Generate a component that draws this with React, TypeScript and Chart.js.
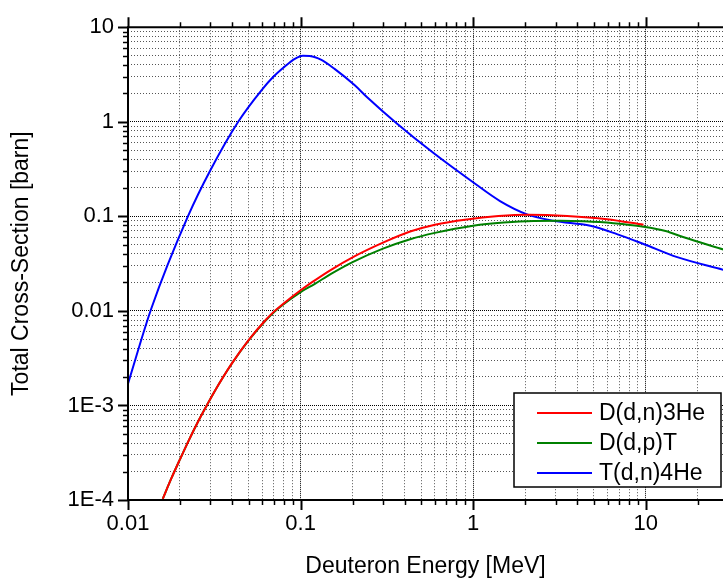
import React, { useEffect, useRef } from "react";
import { Chart, registerables } from "chart.js";

Chart.register(...registerables);

// ---- axis ranges and ticks ----
const X_MIN = 0.01;
const X_MAX = 28;
const Y_MIN = 1e-4;
const Y_MAX = 10;
const xMajorTicks = [0.01, 0.1, 1, 10];
const xTickLabels = ["0.01", "0.1", "1", "10"];
const yMajorTicks = [1e-4, 1e-3, 0.01, 0.1, 1, 10];
const yTickLabels = ["1E-4", "1E-3", "0.01", "0.1", "1", "10"];
const minorSteps = [2, 3, 4, 5, 6, 7, 8, 9];

// ---- series ----
const seriesLabels = ["D(d,n)3He", "D(d,p)T", "T(d,n)4He"];
const seriesColors = ["#ff0000", "#008000", "#0000ff"];

const ddnEnergy = [0.0159, 0.0178, 0.02, 0.0224, 0.0251, 0.0286, 0.0316, 0.0398, 0.0501, 0.0631, 0.0708, 0.0794, 0.1, 0.116, 0.15, 0.2, 0.3, 0.431, 0.6, 0.918, 1.4, 2.05, 3.5, 5.96, 9.7];
const ddnSigma = [1.03e-4, 1.68e-4, 2.69e-4, 4.2e-4, 6.41e-4, 1e-3, 1.39e-3, 2.75e-3, 4.94e-3, 8.1e-3, 0.01, 0.0119, 0.0165, 0.02, 0.0272, 0.0368, 0.0526, 0.069, 0.0815, 0.0927, 0.1005, 0.1038, 0.101, 0.0933, 0.0815];

const ddpEnergy = [0.0159, 0.0178, 0.02, 0.0224, 0.0251, 0.0286, 0.0316, 0.0398, 0.0501, 0.0631, 0.0708, 0.0794, 0.1, 0.121, 0.15, 0.2, 0.3, 0.431, 0.6, 1.0, 1.5, 2.24, 3.2, 4.37, 6.5, 9.7, 13, 16.6, 28.1];
const ddpSigma = [1.03e-4, 1.68e-4, 2.69e-4, 4.2e-4, 6.41e-4, 1e-3, 1.39e-3, 2.74e-3, 4.9e-3, 8.0e-3, 9.85e-3, 0.0117, 0.0158, 0.0193, 0.0246, 0.0328, 0.0455, 0.0573, 0.0668, 0.0794, 0.0858, 0.0893, 0.0897, 0.0885, 0.0845, 0.0776, 0.07, 0.06, 0.0446];

const dtEnergy = [0.01, 0.01365, 0.0223, 0.0298, 0.0435, 0.0593, 0.0693, 0.081, 0.0925, 0.103, 0.113, 0.132, 0.158, 0.206, 0.242, 0.361, 0.589, 0.98, 1.43, 2.05, 2.92, 4.77, 6.8, 9.7, 15.2, 28.1];
const dtSigma = [1.7e-3, 0.0106, 0.101, 0.3, 1.0, 2.15, 2.97, 3.84, 4.62, 5.0, 4.97, 4.51, 3.6, 2.43, 1.83, 0.96, 0.467, 0.235, 0.145, 0.105, 0.0897, 0.0794, 0.0649, 0.051, 0.037, 0.0272];

const FONT = "'Liberation Sans', Arial, Helvetica, sans-serif";

function isMajor(v: number | undefined): boolean {
  if (v === undefined || v === null) return false;
  const l = Math.log10(v);
  return Math.abs(l - Math.round(l)) < 1e-6;
}

function buildTicks(majors: number[], min: number, max: number) {
  const vals: number[] = [];
  for (const d of majors) {
    if (d >= min * 0.999999 && d <= max * 1.000001) vals.push(d);
    for (const m of minorSteps) {
      const v = Number((d * m).toPrecision(6));
      if (v >= min && v <= max) vals.push(v);
    }
  }
  vals.sort((a, b) => a - b);
  return vals.map((v) => ({ value: v }));
}

function labelFor(value: number, majors: number[], labels: string[]): string {
  for (let i = 0; i < majors.length; i++) {
    if (Math.abs(Math.log10(value) - Math.log10(majors[i])) < 1e-6) return labels[i];
  }
  return "";
}

function toPoints(xs: number[], ys: number[]) {
  return xs.map((x, i) => ({ x, y: ys[i] }));
}

const framePlugin = {
  id: "frame",
  afterDatasetsDraw(chart: any) {
    const { ctx, chartArea } = chart;
    const { left, right, top, bottom } = chartArea;
    const xs = chart.scales.x;
    const ys = chart.scales.y;
    ctx.save();
    ctx.strokeStyle = "#000";
    ctx.setLineDash([]);
    // tick marks
    for (const t of xs.ticks) {
      const px = Math.round(xs.getPixelForValue(t.value)) + 0.5;
      const major = isMajor(t.value);
      const len = major ? 10 : 5;
      ctx.lineWidth = major ? 2 : 1.5;
      ctx.beginPath();
      ctx.moveTo(px, bottom);
      ctx.lineTo(px, bottom + len);
      ctx.moveTo(px, top);
      ctx.lineTo(px, top - len);
      ctx.stroke();
    }
    for (const t of ys.ticks) {
      const py = Math.round(ys.getPixelForValue(t.value)) + 0.5;
      const major = isMajor(t.value);
      const len = major ? 10 : 5;
      ctx.lineWidth = major ? 2 : 1.5;
      ctx.beginPath();
      ctx.moveTo(left, py);
      ctx.lineTo(left - len, py);
      ctx.stroke();
    }
    // frame
    ctx.lineWidth = 2;
    ctx.beginPath();
    ctx.moveTo(right + 2, top);
    ctx.lineTo(left, top);
    ctx.lineTo(left, bottom);
    ctx.lineTo(right + 2, bottom);
    ctx.stroke();

    // legend box
    const boxW = 207;
    const boxH = 94;
    const bx = right - 2 - boxW;
    const by = bottom - 13 - boxH;
    ctx.fillStyle = "#fff";
    ctx.fillRect(bx, by, boxW, boxH);
    ctx.lineWidth = 1.5;
    ctx.strokeRect(bx, by, boxW, boxH);
    ctx.font = `23px ${FONT}`;
    ctx.textBaseline = "middle";
    ctx.textAlign = "left";
    chart.data.datasets.forEach((ds: any, i: number) => {
      const cy = by + 20 + i * 30;
      ctx.strokeStyle = ds.borderColor;
      ctx.lineWidth = 2;
      ctx.beginPath();
      ctx.moveTo(bx + 23, cy);
      ctx.lineTo(bx + 78, cy);
      ctx.stroke();
      ctx.fillStyle = "#000";
      ctx.fillText(ds.label, bx + 85, cy + 1);
    });
    ctx.restore();
  },
};

export default function App() {
  const ref = useRef<HTMLCanvasElement | null>(null);

  useEffect(() => {
    if (!ref.current) return;
    const chart = new Chart(ref.current, {
      type: "line",
      data: {
        datasets: [
          { label: seriesLabels[0], data: toPoints(ddnEnergy, ddnSigma), borderColor: seriesColors[0] },
          { label: seriesLabels[1], data: toPoints(ddpEnergy, ddpSigma), borderColor: seriesColors[1] },
          { label: seriesLabels[2], data: toPoints(dtEnergy, dtSigma), borderColor: seriesColors[2] },
        ].map((d) => ({
          ...d,
          borderWidth: 2,
          pointRadius: 0,
          fill: false,
          cubicInterpolationMode: "monotone" as const,
        })),
      },
      options: {
        responsive: false,
        animation: false,
        devicePixelRatio: 1,
        layout: { padding: { top: 23, left: 0, right: 0, bottom: 0 } },
        plugins: { legend: { display: false }, tooltip: { enabled: false } },
        color: "#000",
        font: { family: FONT },
        scales: {
          x: {
            type: "logarithmic",
            position: "bottom",
            min: X_MIN,
            max: X_MAX,
            afterBuildTicks: (scale: any) => {
              scale.ticks = buildTicks(xMajorTicks, X_MIN, X_MAX);
            },
            afterFit: (scale: any) => {
              scale.height = 80;
            },
            ticks: {
              autoSkip: false,
              maxRotation: 0,
              minRotation: 0,
              padding: 11,
              color: "#000",
              font: { family: FONT, size: 22 },
              callback: (value: any) => labelFor(Number(value), xMajorTicks, xTickLabels),
            },
            grid: {
              drawTicks: false,
              lineWidth: 1,
              color: (c: any) => (isMajor(c.tick?.value) ? "#000" : "#555"),
            },
            border: {
              display: false,
              dash: (c: any) => (isMajor(c.tick?.value) ? [1, 1] : [1, 2]),
            },
            title: {
              display: true,
              text: "Deuteron Energy [MeV]",
              color: "#000",
              font: { family: FONT, size: 23 },
              padding: { top: 0, bottom: 0 },
            },
          },
          y: {
            type: "logarithmic",
            position: "left",
            min: Y_MIN,
            max: Y_MAX,
            afterBuildTicks: (scale: any) => {
              scale.ticks = buildTicks(yMajorTicks, Y_MIN, Y_MAX);
            },
            afterFit: (scale: any) => {
              scale.width = 128;
            },
            ticks: {
              autoSkip: false,
              padding: 14,
              color: "#000",
              font: { family: FONT, size: 22 },
              callback: (value: any) => labelFor(Number(value), yMajorTicks, yTickLabels),
            },
            grid: {
              drawTicks: false,
              lineWidth: 1,
              color: (c: any) => (isMajor(c.tick?.value) ? "#000" : "#555"),
            },
            border: {
              display: false,
              dash: (c: any) => (isMajor(c.tick?.value) ? [1, 1] : [1, 2]),
            },
            title: {
              display: true,
              text: "Total Cross-Section [barn]",
              color: "#000",
              font: { family: FONT, size: 23 },
              padding: { top: 8, bottom: 0 },
            },
          },
        },
      } as any,
      plugins: [framePlugin],
    });
    return () => chart.destroy();
  }, []);

  return (
    <div style={{ position: "fixed", left: 0, top: 0, width: 723, height: 580, background: "#fff" }}>
      <canvas ref={ref} width={723} height={580} style={{ display: "block" }} />
    </div>
  );
}
